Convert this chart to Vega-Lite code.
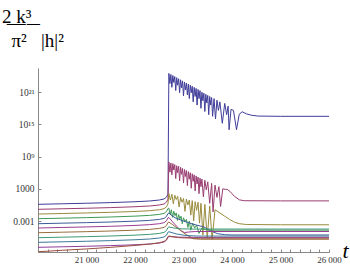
{
"$schema":"https://vega.github.io/schema/vega-lite/v6.json",
"width":291,"height":184,
"autosize":{"type":"none"},
"padding":{"left":38,"top":68,"right":21,"bottom":14},
"background":"white",
"title":{"text":"2\u0332\u00a0\u0332k\u0332³\u0332\u2009\u0332","subtitle":"\u200b\u00a0\u00a0π²\u00a0\u00a0\u00a0|h|²","font":"Liberation Serif","fontSize":19,"fontWeight":"normal","color":"black","subtitleFont":"Liberation Serif","subtitleFontSize":19,"subtitleColor":"black","subtitlePadding":5,"anchor":"start","frame":"group","dx":-36,"offset":17},
"data":{"values":[
{"c":"c1","t":20000,"v":0.11},{"c":"c1","t":20500,"v":0.21},{"c":"c1","t":21000,"v":0.31},{"c":"c1","t":21500,"v":0.43},{"c":"c1","t":22000,"v":0.59},{"c":"c1","t":22300,"v":0.73},{"c":"c1","t":22500,"v":0.91},{"c":"c1","t":22600,"v":1.11},{"c":"c1","t":22650,"v":1.46},{"c":"c1","t":22680,"v":2.01},
{"c":"c1","t":22698,"v":24.5},{"c":"c1","t":22720,"v":22.6},{"c":"c1","t":22740,"v":24.3},{"c":"c1","t":22760,"v":21.9},{"c":"c1","t":22780,"v":24.1},{"c":"c1","t":22800,"v":22.8},{"c":"c1","t":22820,"v":23.9},{"c":"c1","t":22840,"v":21.3},{"c":"c1","t":22860,"v":23.7},{"c":"c1","t":22880,"v":22.3},{"c":"c1","t":22900,"v":23.5},{"c":"c1","t":22920,"v":20.9},{"c":"c1","t":22940,"v":23.3},{"c":"c1","t":22960,"v":21.8},{"c":"c1","t":22980,"v":23.1},{"c":"c1","t":23000,"v":20.3},{"c":"c1","t":23020,"v":22.9},{"c":"c1","t":23040,"v":21.4},{"c":"c1","t":23060,"v":22.7},{"c":"c1","t":23080,"v":20.5},{"c":"c1","t":23100,"v":22.5},{"c":"c1","t":23120,"v":19.8},{"c":"c1","t":23140,"v":22.3},{"c":"c1","t":23160,"v":20.9},{"c":"c1","t":23180,"v":22.1},{"c":"c1","t":23200,"v":19.2},{"c":"c1","t":23220,"v":21.9},{"c":"c1","t":23240,"v":20.2},{"c":"c1","t":23260,"v":21.7},{"c":"c1","t":23280,"v":18.6},{"c":"c1","t":23300,"v":21.5},{"c":"c1","t":23320,"v":19.8},{"c":"c1","t":23340,"v":21.3},{"c":"c1","t":23360,"v":18.0},{"c":"c1","t":23380,"v":21.0},{"c":"c1","t":23400,"v":19.4},{"c":"c1","t":23420,"v":20.8},{"c":"c1","t":23440,"v":17.4},{"c":"c1","t":23460,"v":20.6},{"c":"c1","t":23480,"v":19.0},{"c":"c1","t":23500,"v":20.4},{"c":"c1","t":23520,"v":16.8},{"c":"c1","t":23540,"v":20.2},{"c":"c1","t":23560,"v":18.6},{"c":"c1","t":23580,"v":20.0},{"c":"c1","t":23600,"v":16.5},{"c":"c1","t":23630,"v":19.8},{"c":"c1","t":23660,"v":16.0},{"c":"c1","t":23690,"v":19.5},{"c":"c1","t":23720,"v":17.6},{"c":"c1","t":23750,"v":19.2},{"c":"c1","t":23800,"v":15.2},{"c":"c1","t":23850,"v":18.9},{"c":"c1","t":23890,"v":16.8},{"c":"c1","t":23920,"v":18.4},{"c":"c1","t":23940,"v":14.0},{"c":"c1","t":23980,"v":17.8},{"c":"c1","t":24030,"v":17.6},{"c":"c1","t":24093,"v":14.0},{"c":"c1","t":24150,"v":16.9},{"c":"c1","t":24210,"v":17.35},{"c":"c1","t":24300,"v":16.95},{"c":"c1","t":24400,"v":16.7},{"c":"c1","t":24530,"v":16.55},{"c":"c1","t":25000,"v":16.5},{"c":"c1","t":26000,"v":16.5},
{"c":"c2","t":20000,"v":-0.82},{"c":"c2","t":20500,"v":-0.72},{"c":"c2","t":21000,"v":-0.62},{"c":"c2","t":21500,"v":-0.5},{"c":"c2","t":22000,"v":-0.34},{"c":"c2","t":22300,"v":-0.2},{"c":"c2","t":22500,"v":-0.02},{"c":"c2","t":22600,"v":0.18},{"c":"c2","t":22650,"v":0.53},{"c":"c2","t":22680,"v":1.08},
{"c":"c2","t":22698,"v":8.0},{"c":"c2","t":22720,"v":6.1},{"c":"c2","t":22740,"v":7.8},{"c":"c2","t":22760,"v":5.6},{"c":"c2","t":22780,"v":7.7},{"c":"c2","t":22800,"v":6.5},{"c":"c2","t":22820,"v":7.5},{"c":"c2","t":22840,"v":4.9},{"c":"c2","t":22860,"v":7.3},{"c":"c2","t":22880,"v":6.0},{"c":"c2","t":22900,"v":7.2},{"c":"c2","t":22920,"v":4.5},{"c":"c2","t":22940,"v":7.0},{"c":"c2","t":22960,"v":5.7},{"c":"c2","t":22980,"v":6.8},{"c":"c2","t":23000,"v":4.1},{"c":"c2","t":23020,"v":6.6},{"c":"c2","t":23040,"v":5.3},{"c":"c2","t":23060,"v":6.4},{"c":"c2","t":23080,"v":3.6},{"c":"c2","t":23100,"v":6.2},{"c":"c2","t":23120,"v":4.8},{"c":"c2","t":23140,"v":6.0},{"c":"c2","t":23160,"v":3.1},{"c":"c2","t":23180,"v":5.8},{"c":"c2","t":23200,"v":4.4},{"c":"c2","t":23220,"v":5.6},{"c":"c2","t":23240,"v":2.6},{"c":"c2","t":23260,"v":5.4},{"c":"c2","t":23280,"v":3.9},{"c":"c2","t":23300,"v":5.2},{"c":"c2","t":23320,"v":2.1},{"c":"c2","t":23340,"v":5.0},{"c":"c2","t":23360,"v":3.4},{"c":"c2","t":23380,"v":4.8},{"c":"c2","t":23410,"v":1.5},{"c":"c2","t":23440,"v":4.6},{"c":"c2","t":23470,"v":2.8},{"c":"c2","t":23500,"v":4.3},{"c":"c2","t":23540,"v":0.3},{"c":"c2","t":23580,"v":4.0},{"c":"c2","t":23610,"v":-1.3},{"c":"c2","t":23650,"v":3.7},{"c":"c2","t":23690,"v":1.4},{"c":"c2","t":23730,"v":3.4},{"c":"c2","t":23765,"v":-0.3},{"c":"c2","t":23810,"v":3.0},{"c":"c2","t":23860,"v":2.9},{"c":"c2","t":23900,"v":2.9},{"c":"c2","t":23960,"v":2.5},{"c":"c2","t":24050,"v":1.6},{"c":"c2","t":24150,"v":0.95},{"c":"c2","t":24250,"v":0.78},{"c":"c2","t":25000,"v":0.75},{"c":"c2","t":26000,"v":0.75},
{"c":"c3","t":20000,"v":-1.7},{"c":"c3","t":20500,"v":-1.6},{"c":"c3","t":21000,"v":-1.5},{"c":"c3","t":21500,"v":-1.38},{"c":"c3","t":22000,"v":-1.22},{"c":"c3","t":22300,"v":-1.08},{"c":"c3","t":22500,"v":-0.9},{"c":"c3","t":22600,"v":-0.7},{"c":"c3","t":22650,"v":-0.35},{"c":"c3","t":22680,"v":0.2},
{"c":"c3","t":22698,"v":2.1},{"c":"c3","t":22730,"v":0.9},{"c":"c3","t":22760,"v":2.0},{"c":"c3","t":22790,"v":0.2},{"c":"c3","t":22820,"v":1.8},{"c":"c3","t":22850,"v":1.0},{"c":"c3","t":22880,"v":1.6},{"c":"c3","t":22910,"v":-0.4},{"c":"c3","t":22940,"v":1.4},{"c":"c3","t":22970,"v":0.5},{"c":"c3","t":23000,"v":1.2},{"c":"c3","t":23030,"v":-1.2},{"c":"c3","t":23060,"v":1.1},{"c":"c3","t":23090,"v":0.0},{"c":"c3","t":23120,"v":0.9},{"c":"c3","t":23150,"v":-1.9},{"c":"c3","t":23180,"v":0.8},{"c":"c3","t":23210,"v":-3.0},{"c":"c3","t":23240,"v":0.6},{"c":"c3","t":23270,"v":-1.0},{"c":"c3","t":23300,"v":0.5},{"c":"c3","t":23330,"v":-3.4},{"c":"c3","t":23360,"v":0.3},{"c":"c3","t":23400,"v":-5.6},{"c":"c3","t":23440,"v":0.1},{"c":"c3","t":23490,"v":-6.2},{"c":"c3","t":23540,"v":-0.2},{"c":"c3","t":23590,"v":-6.4},{"c":"c3","t":23650,"v":-0.9},{"c":"c3","t":23750,"v":-1.5},{"c":"c3","t":23850,"v":-2.1},{"c":"c3","t":23950,"v":-2.7},{"c":"c3","t":24050,"v":-3.2},{"c":"c3","t":24150,"v":-3.5},{"c":"c3","t":24300,"v":-3.65},{"c":"c3","t":25000,"v":-3.7},{"c":"c3","t":26000,"v":-3.7},
{"c":"c4","t":20000,"v":-2.57},{"c":"c4","t":20500,"v":-2.47},{"c":"c4","t":21000,"v":-2.37},{"c":"c4","t":21500,"v":-2.25},{"c":"c4","t":22000,"v":-2.09},{"c":"c4","t":22300,"v":-1.95},{"c":"c4","t":22500,"v":-1.77},{"c":"c4","t":22600,"v":-1.57},{"c":"c4","t":22650,"v":-1.22},{"c":"c4","t":22680,"v":-0.67},
{"c":"c4","t":22698,"v":-0.6},{"c":"c4","t":22725,"v":-1.8},{"c":"c4","t":22750,"v":-0.9},{"c":"c4","t":22775,"v":-2.3},{"c":"c4","t":22800,"v":-1.2},{"c":"c4","t":22825,"v":-2.0},{"c":"c4","t":22850,"v":-1.5},{"c":"c4","t":22875,"v":-2.9},{"c":"c4","t":22900,"v":-1.8},{"c":"c4","t":22925,"v":-2.6},{"c":"c4","t":22950,"v":-2.1},{"c":"c4","t":22975,"v":-3.5},{"c":"c4","t":23000,"v":-2.4},{"c":"c4","t":23030,"v":-3.1},{"c":"c4","t":23060,"v":-2.7},{"c":"c4","t":23090,"v":-4.2},{"c":"c4","t":23120,"v":-3.0},{"c":"c4","t":23150,"v":-4.7},{"c":"c4","t":23190,"v":-3.4},{"c":"c4","t":23230,"v":-4.3},{"c":"c4","t":23270,"v":-3.8},{"c":"c4","t":23320,"v":-5.3},{"c":"c4","t":23380,"v":-4.3},{"c":"c4","t":23450,"v":-4.6},{"c":"c4","t":23600,"v":-4.7},{"c":"c4","t":26000,"v":-4.7},
{"c":"c5","t":20000,"v":-3.5},{"c":"c5","t":20500,"v":-3.4},{"c":"c5","t":21000,"v":-3.3},{"c":"c5","t":21500,"v":-3.18},{"c":"c5","t":22000,"v":-3.02},{"c":"c5","t":22300,"v":-2.88},{"c":"c5","t":22500,"v":-2.7},{"c":"c5","t":22600,"v":-2.5},{"c":"c5","t":22650,"v":-2.15},{"c":"c5","t":22680,"v":-1.6},
{"c":"c5","t":22700,"v":-1.5},{"c":"c5","t":22760,"v":-2.0},{"c":"c5","t":22850,"v":-2.5},{"c":"c5","t":23000,"v":-3.0},{"c":"c5","t":23200,"v":-3.6},{"c":"c5","t":23420,"v":-4.1},{"c":"c5","t":23550,"v":-4.8},{"c":"c5","t":23700,"v":-5.35},{"c":"c5","t":23850,"v":-5.55},{"c":"c5","t":24000,"v":-5.6},{"c":"c5","t":26000,"v":-5.6},
{"c":"c6","t":20000,"v":-4.3},{"c":"c6","t":20500,"v":-4.2},{"c":"c6","t":21000,"v":-4.1},{"c":"c6","t":21500,"v":-3.98},{"c":"c6","t":22000,"v":-3.82},{"c":"c6","t":22300,"v":-3.68},{"c":"c6","t":22500,"v":-3.5},{"c":"c6","t":22600,"v":-3.3},{"c":"c6","t":22650,"v":-2.95},{"c":"c6","t":22680,"v":-2.4},
{"c":"c6","t":22700,"v":-2.35},{"c":"c6","t":22760,"v":-3.0},{"c":"c6","t":22850,"v":-3.9},{"c":"c6","t":22950,"v":-4.8},{"c":"c6","t":23020,"v":-5.15},{"c":"c6","t":23100,"v":-5.05},{"c":"c6","t":23250,"v":-4.95},{"c":"c6","t":26000,"v":-4.95},
{"c":"c7","t":20000,"v":-5.18},{"c":"c7","t":20500,"v":-5.08},{"c":"c7","t":21000,"v":-4.98},{"c":"c7","t":21500,"v":-4.86},{"c":"c7","t":22000,"v":-4.7},{"c":"c7","t":22300,"v":-4.56},{"c":"c7","t":22500,"v":-4.38},{"c":"c7","t":22600,"v":-4.18},{"c":"c7","t":22650,"v":-3.83},{"c":"c7","t":22680,"v":-3.28},
{"c":"c7","t":22700,"v":-3.2},{"c":"c7","t":22780,"v":-3.7},{"c":"c7","t":22900,"v":-4.5},{"c":"c7","t":23050,"v":-5.5},{"c":"c7","t":23200,"v":-6.3},{"c":"c7","t":23350,"v":-6.4},{"c":"c7","t":26000,"v":-6.4},
{"c":"c8","t":20000,"v":-6.11},{"c":"c8","t":20500,"v":-6.01},{"c":"c8","t":21000,"v":-5.91},{"c":"c8","t":21500,"v":-5.79},{"c":"c8","t":22000,"v":-5.63},{"c":"c8","t":22300,"v":-5.49},{"c":"c8","t":22500,"v":-5.31},{"c":"c8","t":22600,"v":-5.11},{"c":"c8","t":22650,"v":-4.76},{"c":"c8","t":22680,"v":-4.21},
{"c":"c8","t":22700,"v":-4.1},{"c":"c8","t":22800,"v":-4.3},{"c":"c8","t":22950,"v":-4.45},{"c":"c8","t":23200,"v":-4.5},{"c":"c8","t":26000,"v":-4.5},
{"c":"c9","t":20000,"v":-6.97},{"c":"c9","t":20500,"v":-6.87},{"c":"c9","t":21000,"v":-6.77},{"c":"c9","t":21500,"v":-6.65},{"c":"c9","t":22000,"v":-6.49},{"c":"c9","t":22300,"v":-6.35},{"c":"c9","t":22500,"v":-6.17},{"c":"c9","t":22600,"v":-5.97},{"c":"c9","t":22650,"v":-5.62},{"c":"c9","t":22680,"v":-5.07},
{"c":"c9","t":22700,"v":-5.0},{"c":"c9","t":22850,"v":-5.4},{"c":"c9","t":23050,"v":-5.7},{"c":"c9","t":23300,"v":-5.8},{"c":"c9","t":26000,"v":-5.8},
{"c":"c10","t":20000,"v":-7.9},{"c":"c10","t":20500,"v":-7.8},{"c":"c10","t":21000,"v":-7.7},{"c":"c10","t":21500,"v":-7.58},{"c":"c10","t":22000,"v":-7.42},{"c":"c10","t":22300,"v":-7.28},{"c":"c10","t":22500,"v":-7.1},{"c":"c10","t":22600,"v":-6.9},{"c":"c10","t":22650,"v":-6.55},{"c":"c10","t":22680,"v":-6.0},
{"c":"c10","t":22700,"v":-5.9},{"c":"c10","t":22900,"v":-6.0},{"c":"c10","t":23200,"v":-6.05},{"c":"c10","t":26000,"v":-6.05},
{"c":"c11","t":20000,"v":-8.72},{"c":"c11","t":20500,"v":-8.45},{"c":"c11","t":21000,"v":-8.2},{"c":"c11","t":21500,"v":-7.9},{"c":"c11","t":22000,"v":-7.55},{"c":"c11","t":22300,"v":-7.3},{"c":"c11","t":22500,"v":-7.05},{"c":"c11","t":22600,"v":-6.8},{"c":"c11","t":22650,"v":-6.45},{"c":"c11","t":22680,"v":-5.9},
{"c":"c11","t":22700,"v":-5.8},{"c":"c11","t":22900,"v":-6.1},{"c":"c11","t":23200,"v":-6.2},{"c":"c11","t":26000,"v":-6.2}
]},
"mark":{"type":"line","strokeWidth":1,"clip":true},
"encoding":{
"x":{"field":"t","type":"quantitative","scale":{"domain":[20000,26000],"nice":false,"zero":false},
"axis":{"title":"t","titleFont":"Liberation Serif","titleFontStyle":"italic","titleFontSize":22,"titleFontWeight":"normal","titleColor":"black","titleX":307,"titleY":5,"titleAlign":"center","titleBaseline":"alphabetic","titleAngle":0,
"values":[20000,20200,20400,20600,20800,21000,21200,21400,21600,21800,22000,22200,22400,22600,22800,23000,23200,23400,23600,23800,24000,24200,24400,24600,24800,25000,25200,25400,25600,25800,26000],
"labelExpr":"datum.value % 1000 === 0 && datum.value > 20000 ? replace(format(datum.value, ','), ',', '\u2009') : ''",
"labelFont":"Liberation Serif","labelFontSize":9,"labelColor":"#333","labelPadding":6,"labelOverlap":false,"labelFlush":false,
"tickSize":-3,"tickColor":"#888","domainColor":"#888","grid":false}},
"y":{"field":"v","type":"quantitative","scale":{"domain":[-8.77,25.5],"nice":false,"zero":false},
"axis":{"title":null,"values":[-3,3,9,15,21],
"labelExpr":"datum.value === 21 ? '10²¹' : datum.value === 15 ? '10¹⁵' : datum.value === 9 ? '10⁹' : datum.value === 3 ? '1000' : '0.001'",
"labelFont":"Liberation Serif","labelFontSize":9.5,"labelColor":"#333","labelPadding":7,
"tickSize":-3,"tickColor":"#888","domainColor":"#888","grid":false}},
"color":{"field":"c","type":"nominal","scale":{"domain":["c1","c2","c3","c4","c5","c6","c7","c8","c9","c10","c11"],"range":["#3F3D99","#993D71","#998B3D","#3D9956","#3D5A99","#993D90","#996D3D","#3D9975","#3D7999","#8E3D99","#994E3D"]},"legend":null}
},
"config":{"view":{"stroke":null}}
}
